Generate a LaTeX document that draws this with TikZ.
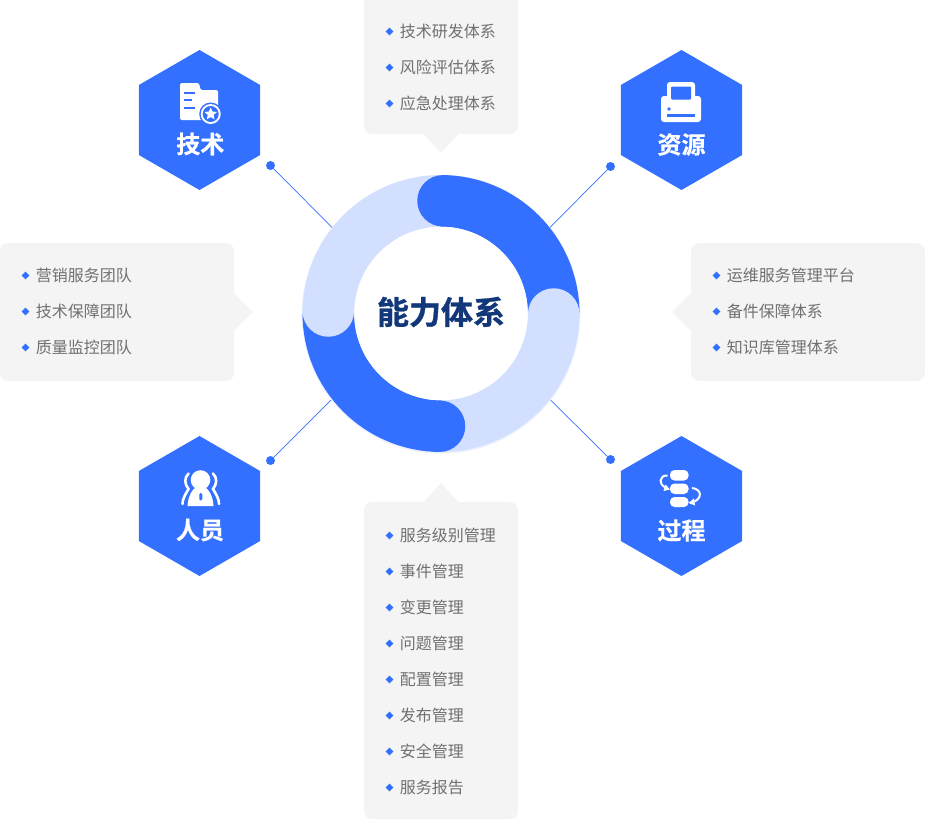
\documentclass[tikz,border=0pt]{standalone}
\usepackage{fontspec}
\setmainfont{Noto Sans CJK SC}
\newfontfamily\cjkbold[FakeBold=0.4]{Noto Sans CJK SC Bold}
\newfontfamily\cjktitle[FakeBold=1]{Noto Sans CJK SC Bold}
\usetikzlibrary{shapes.geometric}
\definecolor{mainblue}{HTML}{3370FF}
\definecolor{lightblue}{HTML}{D2DFFF}
\definecolor{paneltone}{HTML}{F4F4F4}
\definecolor{titleblue}{HTML}{12387A}
\definecolor{itemgrey}{HTML}{707070}
\tikzset{
  hexnode/.style={regular polygon,regular polygon sides=6,shape border rotate=30,minimum size=140pt,inner sep=0pt,outer sep=0pt,fill=mainblue},
  hexlabel/.style={text=white,font=\cjkbold\fontsize{24}{24}\selectfont,inner sep=0pt},
  paneltip/.style={fill=paneltone,draw=none},
  panelbox/.style={fill=paneltone,draw=none,rounded corners=8pt},
  itemtext/.style={anchor=west,inner sep=0pt,text=itemgrey,font=\fontsize{16}{16}\selectfont},
  itemmark/.style={diamond,fill=mainblue,minimum size=8pt,inner sep=0pt},
  linkline/.style={draw=mainblue,line width=0.7pt},
  linkdot/.style={circle,fill=mainblue,minimum size=9pt,inner sep=0pt,outer sep=0pt},
  ringarc/.style={line width=51.5pt},
}
\newcommand{\panelitem}[4]{%
  \node[itemmark] (#1m) at (#2,#3) {};
  \node[itemtext] (#1t) at ([xshift=10.2pt]#2,#3) {#4};
}
\begin{document}
\begin{tikzpicture}[x=1pt,y=-1pt]
\useasboundingbox (0,0) rectangle (925,819);
% connectors
\coordinate (cc) at (441,313.5);
\coordinate (halo) at (441,314.3);
\node[linkdot] (d1) at (270.5,165.5) {};
\node[linkdot] (d2) at (610.5,166.5) {};
\node[linkdot] (d3) at (270.5,460.5) {};
\node[linkdot] (d4) at (610.5,459.5) {};
\coordinate (r1) at (341,236.5);
\coordinate (r2) at (541,236.5);
\coordinate (r3) at (341,390);
\coordinate (r4) at (541,390.5);
\draw[linkline] (d1) -- (r1);
\draw[linkline] (d2) -- (r2);
\draw[linkline] (d3) -- (r3);
\draw[linkline] (d4) -- (r4);
% ring
\fill[lightblue!45!white] (halo) circle[radius=139.3];
\fill[lightblue!35!white] (cc) circle[radius=87.8];
\fill[white] (cc) circle[radius=86.6];
\draw[lightblue,line width=51.5pt] (cc) circle[radius=112.7];
\draw[mainblue,ringarc,line cap=butt] ([yshift=112.7pt]cc) arc[start angle=90,end angle=0,radius=112.7pt];
\fill[mainblue] (443,200.8) circle[radius=25.75];
\draw[mainblue,ringarc,line cap=butt] ([yshift=-112.7pt]cc) arc[start angle=-90,end angle=-180,radius=112.7pt];
\fill[mainblue] (439.5,426.2) circle[radius=25.75];
\fill[lightblue] (553.7,314) circle[radius=25.75];
\fill[lightblue] (328.3,311) circle[radius=25.75];
\fill[white] (cc) circle[radius=86.6];
\node[inner sep=0pt,text=titleblue,font=\cjktitle\fontsize{32}{32}\selectfont] (title) at (441,312) {能力体系};
% hexagons
\node[hexnode] (h1) at (199.5,120) {};
\node[hexnode] (h2) at (681.5,120) {};
\node[hexnode] (h3) at (199.5,506) {};
\node[hexnode] (h4) at (681.5,506) {};
\node[hexlabel] (l1) at (200.3,144) {技术};
\node[hexlabel] (l2) at (681.5,144.5) {资源};
\node[hexlabel] (l3) at (200,530) {人员};
\node[hexlabel] (l4) at (681.5,530.5) {过程};
% icon: folder with star
\fill[white,rounded corners=2pt] (180,83) -- (199.5,83) -- (200,90) -- (218,90) -- (218,120) -- (180,120) -- cycle;
\fill[mainblue] (184,92) rectangle (195,94);
\fill[mainblue] (184,99) rectangle (192,101);
\fill[mainblue] (184,107) rectangle (195,109);
\fill[mainblue] (210.7,114) circle[radius=11.5];
\fill[white] (210.7,114) circle[radius=10];
\fill[mainblue] (210.7,114) circle[radius=8];
\node[star,star points=5,star point ratio=2.1,fill=white,minimum size=13pt,inner sep=0pt] (st) at (210.7,114) {};
% icon: printer
\fill[white,rounded corners=3pt] (667,82) rectangle (695,104);
\fill[white,rounded corners=3pt] (661,96) rectangle (701,122);
\fill[mainblue,rounded corners=1pt] (671,86.5) rectangle (691,99.5);
\fill[mainblue] (667,114.3) rectangle (695,117.3);
\fill[mainblue] (669,109) circle[radius=1.8];
% icon: person
\fill[white] (200.5,480) circle[radius=9.8];
\fill[white] (187.5,506) .. controls (188,495) and (193.5,486) .. (200.5,486) .. controls (207.5,486) and (213,495) .. (213.5,506) -- cycle;
\fill[mainblue,rounded corners=1.4pt] (199.3,493) rectangle (202.3,500.5);
\draw[white,line width=2.6pt,line cap=round] (188.5,473.5) .. controls (184,478) and (184.5,484) .. (188.5,489) .. controls (185,495) and (182.5,499) .. (182.5,504);
\draw[white,line width=2.6pt,line cap=round] (213,473.5) .. controls (217.5,478) and (217,484) .. (213,489) .. controls (216.5,495) and (219,499) .. (219,504);
% icon: process
\fill[white,rounded corners=4.5pt] (670,470) rectangle (688.5,480.5);
\fill[white,rounded corners=4.5pt] (670,483.5) rectangle (688.5,494);
\fill[white,rounded corners=4.5pt] (670,497) rectangle (688.5,507);
\draw[white,line width=2pt] (667.5,475.5) .. controls (659,475) and (658,485) .. (666,487.5);
\fill[white] (670,489.5) -- (663.5,491) -- (665.5,484.5) -- cycle;
\draw[white,line width=2pt] (692,488) .. controls (702,489) and (703,499) .. (692,502.5);
\fill[white] (688.5,503) -- (694,498.5) -- (695,505.5) -- cycle;
% panels
\fill[panelbox] (364,-10) rectangle (518,134);
\fill[paneltip] (423,133.5) -- (441,153) -- (459,133.5) -- cycle;
\fill[panelbox] (0,243) rectangle (234,381);
\fill[paneltip] (233.5,293) -- (253,312) -- (233.5,331) -- cycle;
\fill[panelbox] (691,243) rectangle (925,381);
\fill[paneltip] (691.5,293) -- (672,312) -- (691.5,331) -- cycle;
\fill[panelbox] (364,502) rectangle (518,819);
\fill[paneltip] (423,502.5) -- (441,483) -- (459,502.5) -- cycle;
% items
\panelitem{a1}{389.5}{31.5}{技术研发体系}
\panelitem{a2}{389.5}{67.5}{风险评估体系}
\panelitem{a3}{389.5}{103.5}{应急处理体系}
\panelitem{b1}{25.5}{275.5}{营销服务团队}
\panelitem{b2}{25.5}{311.5}{技术保障团队}
\panelitem{b3}{25.5}{347.5}{质量监控团队}
\panelitem{c1}{716.5}{275.5}{运维服务管理平台}
\panelitem{c2}{716.5}{311.5}{备件保障体系}
\panelitem{c3}{716.5}{347.5}{知识库管理体系}
\panelitem{e1}{389.5}{535.5}{服务级别管理}
\panelitem{e2}{389.5}{571.5}{事件管理}
\panelitem{e3}{389.5}{607.5}{变更管理}
\panelitem{e4}{389.5}{643.5}{问题管理}
\panelitem{e5}{389.5}{679.5}{配置管理}
\panelitem{e6}{389.5}{715.5}{发布管理}
\panelitem{e7}{389.5}{751.5}{安全管理}
\panelitem{e8}{389.5}{787.5}{服务报告}
\end{tikzpicture}
\end{document}
